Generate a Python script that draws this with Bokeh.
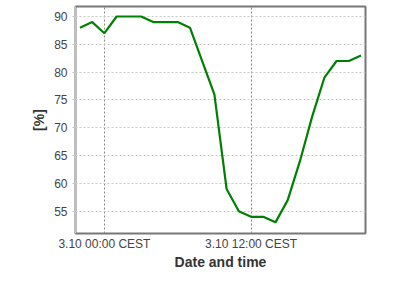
from datetime import datetime, timedelta
from bokeh.plotting import figure
from bokeh.models import (ColumnDataSource, Range1d, FixedTicker, Legend, LegendItem,
                          LinearAxis)
from bokeh.embed import file_html
from bokeh.resources import INLINE

# ---- data ----
start_time = datetime(2023, 10, 2, 22, 0)
times = [start_time + timedelta(hours=i) for i in range(24)]
humidity = [88, 89, 87, 90, 90, 90, 89, 89, 89, 88, 82, 76,
            59, 55, 54, 54, 53, 57, 64, 72, 79, 82, 82, 83]
series_name = "relative air humidity (h. of air)"
tick_times = [datetime(2023, 10, 3, 0, 0), datetime(2023, 10, 3, 12, 0)]
tick_labels = ["3.10 00:00 CEST", "3.10 12:00 CEST"]
y_ticks = [55, 60, 65, 70, 75, 80, 85, 90]

FONT = "Liberation Sans"

def ms(d):
    return (d - datetime(1970, 1, 1)).total_seconds() * 1000.0

src = ColumnDataSource(dict(t=times, h=humidity))

pad = timedelta(minutes=22)
p = figure(frame_width=290, frame_height=227, x_axis_type="datetime",
           output_backend="svg", toolbar_location=None,
           x_range=Range1d(times[0] - pad, times[-1] + pad),
           y_range=Range1d(51.0, 91.8),
           min_border_left=75, min_border_right=35,
           min_border_top=6, min_border_bottom=67)
p.background_fill_color = "white"
p.border_fill_color = "white"
p.outline_line_color = "#777777"
p.outline_line_width = 2

r = p.line("t", "h", source=src, line_color="#008000", line_width=2.2)

def spacer(size):
    # text-free axis that only reserves space (it has no ticks to draw)
    return LinearAxis(ticker=FixedTicker(ticks=[]), axis_line_color=None,
                      major_tick_line_color="white", minor_tick_line_color=None,
                      major_tick_out=size, major_tick_in=0,
                      minor_tick_out=0, minor_tick_in=0,
                      major_label_standoff=0, axis_label_standoff=0)

# x axis
xt = [ms(d) for d in tick_times]
p.xaxis.ticker = FixedTicker(ticks=xt)
p.xaxis.major_label_overrides = {v: lab for v, lab in zip(xt, tick_labels)}
p.xaxis.axis_line_color = None
p.xaxis.major_tick_line_color = None
p.xaxis.minor_tick_line_color = None
p.xaxis.major_tick_out = 0
p.xaxis.major_tick_in = 0
p.xaxis.minor_tick_out = 0
p.xaxis.major_label_standoff = 3
p.xaxis.major_label_text_font = FONT
p.xaxis.major_label_text_font_size = "12px"
p.xaxis.major_label_text_color = "#444444"
p.xaxis.axis_label = "Date and time"
p.xaxis.axis_label_text_font = FONT
p.xaxis.axis_label_text_font_size = "14px"
p.xaxis.axis_label_text_font_style = "bold"
p.xaxis.axis_label_text_color = "#333333"
p.xaxis.axis_label_standoff = 0

# y axis (detached from the frame by a spacer)
p.yaxis.ticker = FixedTicker(ticks=y_ticks)
p.yaxis.axis_line_color = "#c4c4c4"
p.yaxis.major_tick_line_color = "#c4c4c4"
p.yaxis.minor_tick_line_color = None
p.yaxis.major_tick_out = 3
p.yaxis.major_tick_in = 0
p.yaxis.minor_tick_out = 0
p.yaxis.minor_tick_in = 0
p.yaxis.major_label_standoff = 5
p.yaxis.major_label_text_font = FONT
p.yaxis.major_label_text_font_size = "12px"
p.yaxis.major_label_text_color = "#444444"
p.yaxis.axis_label = "[%]"
p.yaxis.axis_label_text_font = FONT
p.yaxis.axis_label_text_font_size = "14px"
p.yaxis.axis_label_text_font_style = "bold"
p.yaxis.axis_label_text_color = "#333333"
p.yaxis.axis_label_standoff = 4

left_sp = spacer(22)
p.add_layout(left_sp, "left")
p.left = [left_sp, p.yaxis[0]]

# grids
p.xgrid.grid_line_color = "#888888"
p.xgrid.grid_line_dash = "2 2"
p.xgrid.grid_line_width = 1
p.ygrid.grid_line_color = "#c8c8c8"
p.ygrid.grid_line_dash = "2 2"
p.ygrid.grid_line_width = 1

below_sp = spacer(13)
legend = Legend(items=[LegendItem(label=series_name, renderers=[r])],
                orientation="horizontal", location="center",
                label_text_font=FONT, label_text_font_size="12px",
                label_text_color="#333333", glyph_width=15,
                glyph_height=14, label_height=14,
                border_line_color=None, background_fill_alpha=0,
                padding=2, margin=0, label_standoff=3)
p.add_layout(below_sp, "below")
p.add_layout(legend, "below")
p.below = [p.xaxis[0], below_sp, legend]

open("out.html", "w").write(file_html(p, INLINE))
